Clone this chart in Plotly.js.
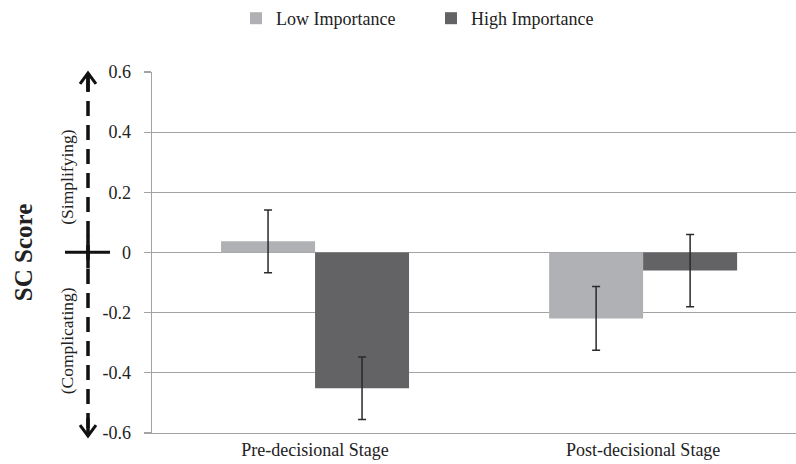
<!DOCTYPE html>
<html>
<head>
<meta charset="utf-8">
<script src="https://cdn.plot.ly/plotly-3.0.1.min.js"></script>
<style>
  html, body { margin: 0; padding: 0; background: #ffffff; }
  #chart { width: 796px; height: 464px; }
</style>
</head>
<body>
<div id="chart"></div>
<script>
// ---- Data ----
const categories = ["Pre-decisional Stage", "Post-decisional Stage"];
const seriesNames = ["Low Importance", "High Importance"];
const lowValues = [0.037, -0.219];
const lowErrors = [0.104, 0.106];
const highValues = [-0.451, -0.060];
const highErrors = [0.104, 0.120];
const yTickVals = [0.6, 0.4, 0.2, 0, -0.2, -0.4, -0.6];
const yTickText = ["0.6", "0.4", "0.2", "0", "-0.2", "-0.4", "-0.6"];

// ---- Layout geometry helpers (decorations only) ----
const W = 796, H = 464;
const M = { l: 152, r: 0, t: 71, b: 31 };
const PW = W - M.l - M.r, PH = H - M.t - M.b;
const px2x = p => (p - M.l) / PW;
const py2y = p => (H - M.b - p) / PH;

const FONT = '"Liberation Serif", "Times New Roman", Times, serif';
const colLow = '#b0b1b5';
const colHigh = '#636365';
const errCol = '#2a2a2a';

const traces = [
  {
    type: 'bar', name: seriesNames[0], x: categories, y: lowValues,
    marker: { color: colLow },
    error_y: { type: 'data', array: lowErrors, visible: true, color: errCol, thickness: 1.5, width: 4 },
    hoverinfo: 'skip'
  },
  {
    type: 'bar', name: seriesNames[1], x: categories, y: highValues,
    marker: { color: colHigh },
    error_y: { type: 'data', array: highErrors, visible: true, color: errCol, thickness: 1.5, width: 4 },
    hoverinfo: 'skip'
  }
];

// Dashed double arrow + cross on the left
const ax = 88;
const shapes = [
  { type: 'line', xref: 'paper', yref: 'paper', x0: px2x(ax), x1: px2x(ax), y0: py2y(76), y1: py2y(432),
    line: { color: '#111', width: 3.5, dash: '15px,9px' } },
  { type: 'path', xref: 'paper', yref: 'paper',
    path: `M ${px2x(80)} ${py2y(83)} L ${px2x(ax)} ${py2y(72)} L ${px2x(96)} ${py2y(83)}`,
    line: { color: '#111', width: 3 } },
  { type: 'line', xref: 'paper', yref: 'paper', x0: px2x(ax), x1: px2x(ax), y0: py2y(72), y1: py2y(90),
    line: { color: '#111', width: 3.5 } },
  { type: 'path', xref: 'paper', yref: 'paper',
    path: `M ${px2x(80)} ${py2y(425)} L ${px2x(ax)} ${py2y(436)} L ${px2x(96)} ${py2y(425)}`,
    line: { color: '#111', width: 3 } },
  { type: 'line', xref: 'paper', yref: 'paper', x0: px2x(ax), x1: px2x(ax), y0: py2y(418), y1: py2y(436),
    line: { color: '#111', width: 3.5 } },
  { type: 'line', xref: 'paper', yref: 'paper', x0: px2x(65), x1: px2x(110), y0: py2y(251.7), y1: py2y(251.7),
    line: { color: '#111', width: 3 } },
  { type: 'line', xref: 'paper', yref: 'paper', x0: px2x(ax), x1: px2x(ax), y0: py2y(235), y1: py2y(268),
    line: { color: '#111', width: 3.5 } }
];

const annotations = [
  { text: '(Simplifying)', xref: 'paper', yref: 'paper', x: px2x(67), y: py2y(177),
    xanchor: 'center', yanchor: 'middle',
    textangle: -90, showarrow: false, font: { family: FONT, size: 17.5, color: '#222' } },
  { text: '(Complicating)', xref: 'paper', yref: 'paper', x: px2x(67), y: py2y(341),
    xanchor: 'center', yanchor: 'middle',
    textangle: -90, showarrow: false, font: { family: FONT, size: 17.5, color: '#222' } }
];

const layout = {
  width: W, height: H,
  margin: M,
  paper_bgcolor: '#ffffff', plot_bgcolor: '#ffffff',
  font: { family: FONT, size: 18, color: '#222' },
  barmode: 'group', bargap: 0.427, bargroupgap: 0,
  showlegend: true,
  legend: {
    orientation: 'h', x: px2x(236), y: 1 + (M.t - 17) / PH, xanchor: 'left', yanchor: 'middle',
    font: { family: FONT, size: 18, color: '#222' }, entrywidth: 150, entrywidthmode: 'pixels',
    traceorder: 'normal', bgcolor: 'rgba(0,0,0,0)'
  },
  xaxis: {
    type: 'category', range: [-0.497, 1.466],
    showgrid: false, zeroline: false,
    showline: true, linecolor: '#a3a3a3', linewidth: 1.3,
    ticks: '', tickfont: { family: FONT, size: 18, color: '#222' },
    fixedrange: true
  },
  yaxis: {
    range: [-0.6, 0.6], tickvals: yTickVals, ticktext: yTickText,
    showgrid: true, gridcolor: '#a3a3a3', gridwidth: 1.3,
    zeroline: true, zerolinecolor: '#a3a3a3', zerolinewidth: 1.3,
    showline: true, linecolor: '#a3a3a3', linewidth: 1.3,
    ticks: 'outside', ticklen: 7, tickcolor: '#a3a3a3', tickwidth: 1.3,
    ticklabelstandoff: 9,
    tickfont: { family: FONT, size: 18, color: '#222' },
    title: { text: '<b>SC Score</b>', font: { family: FONT, size: 25, color: '#222' }, standoff: 62 },
    automargin: false, fixedrange: true
  },
  shapes: shapes,
  annotations: annotations
};

Plotly.newPlot('chart', traces, layout, { displayModeBar: false, staticPlot: true });
</script>
</body>
</html>
